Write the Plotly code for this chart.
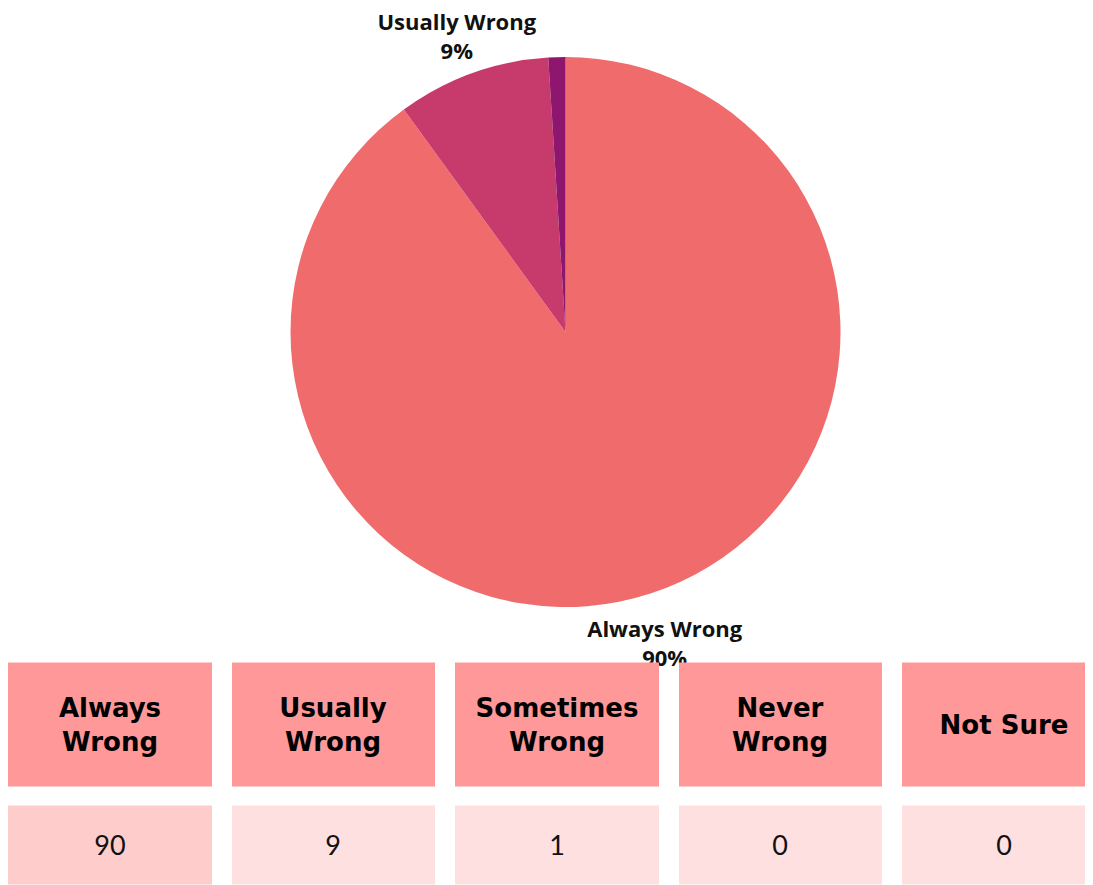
import math
import plotly.graph_objects as go

categories = ["Always Wrong", "Usually Wrong", "Sometimes Wrong", "Never Wrong", "Not Sure"]
header_labels = ["Always<br>Wrong", "Usually<br>Wrong", "Sometimes<br>Wrong", "Never<br>Wrong", "Not Sure"]
values = [90, 9, 1, 0, 0]
slice_colors = ["#F06C6C", "#C63A6C", "#8E166E", "#5A1060", "#3A0C50"]

W, H = 1093, 885
# pie geometry in figure pixels
CX, CY, R = 557.5, 324.0, 275.0
LABEL_OFF = 46
LABEL_DY = 9

fig = go.Figure()

# Pie
fig.add_trace(go.Pie(
    labels=categories, values=values, sort=False, direction="clockwise", rotation=0,
    marker=dict(colors=slice_colors, line=dict(width=0)),
    textinfo="none", showlegend=False, hoverinfo="label+value",
    domain=dict(x=[(CX - R) / W, (CX + R) / W], y=[1 - (CY + R) / H, 1 - (CY - R) / H]),
))

# Outside labels, placed along each slice's mid-angle
total = sum(values)
lx, ly, lt = [], [], []
cum = 0
for name, v in zip(categories, values):
    frac = v / total
    mid = (cum + frac / 2) * 2 * math.pi
    cum += frac
    if frac < 0.05:
        continue
    rr = R + LABEL_OFF
    lx.append(CX + rr * math.sin(mid))
    ly.append(CY - rr * math.cos(mid) + LABEL_DY)
    lt.append(f"<b>{name}<br>{round(frac * 100)}%</b>")

fig.add_trace(go.Scatter(
    x=lx, y=ly, text=lt, mode="text", textposition="middle center",
    textfont=dict(family="Open Sans", size=22, color="#111111"),
    showlegend=False, hoverinfo="skip", xaxis="x", yaxis="y", cliponaxis=False,
))

# Table drawn as heatmap cells (pixel-like axes), on an overlaying subplot
x_edges = [-10 + 223.5 * i for i in range(len(categories) + 1)]
hdr_edges = [645.5, 788.5]
val_edges = [788.5, 886.5]

fig.add_trace(go.Heatmap(
    x=x_edges, y=hdr_edges, z=[[1] * len(categories)],
    colorscale=[[0, "#FF9999"], [1, "#FF9999"]], showscale=False,
    xgap=20, ygap=19,
    text=[header_labels], texttemplate="<b>%{text}</b>",
    textfont=dict(family="DejaVu Sans", size=26, color="#000000"),
    hoverinfo="skip", xaxis="x2", yaxis="y2",
))

val_levels = [1 if v >= 50 else 0 for v in values]
fig.add_trace(go.Heatmap(
    x=x_edges, y=val_edges, z=[val_levels],
    colorscale=[[0, "#FFE0E0"], [1, "#FFCCCC"]], zmin=0, zmax=1, showscale=False,
    xgap=20, ygap=19,
    text=[[str(v) for v in values]], texttemplate="%{text}",
    textfont=dict(family="Lato", size=27, color="#111111"),
    hoverinfo="skip", xaxis="x2", yaxis="y2",
))

fig.update_layout(
    width=W, height=H,
    margin=dict(l=0, r=0, t=0, b=0),
    paper_bgcolor="white", plot_bgcolor="rgba(0,0,0,0)",
    xaxis=dict(range=[0, W], visible=False, fixedrange=True),
    yaxis=dict(range=[H, 0], visible=False, fixedrange=True),
    xaxis2=dict(range=[0, W], visible=False, fixedrange=True, overlaying="x"),
    yaxis2=dict(range=[H, 0], visible=False, fixedrange=True, overlaying="y"),
)

fig.write_html("out.html")
